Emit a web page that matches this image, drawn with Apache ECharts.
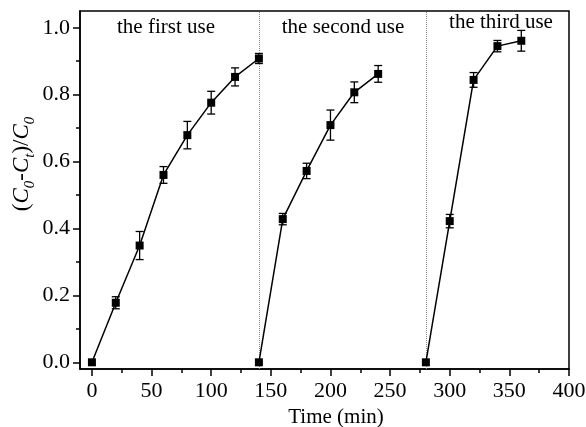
<!DOCTYPE html>
<html>
<head>
<meta charset="utf-8">
<script src="https://cdn.jsdelivr.net/npm/echarts@6/dist/echarts.min.js"></script>
<style>
  html, body { margin: 0; padding: 0; background: #fff; }
  #chart { width: 586px; height: 427px; }
</style>
</head>
<body>
<div id="chart"></div>
<script>
// 三次使用的降解数据 (C0-Ct)/C0
var time1 = [0, 20, 40, 60, 80, 100, 120, 140]
var use1 = [0, 0.178, 0.349, 0.56, 0.679, 0.776, 0.853, 0.908]
var err1 = [0, 0.018, 0.042, 0.025, 0.041, 0.034, 0.027, 0.015]

var time2 = [140, 160, 180, 200, 220, 240]
var use2 = [0, 0.428, 0.572, 0.709, 0.807, 0.862]
var err2 = [0, 0.017, 0.023, 0.045, 0.031, 0.025]

var time3 = [280, 300, 320, 340, 360]
var use3 = [0, 0.422, 0.844, 0.945, 0.961]
var err3 = [0, 0.02, 0.022, 0.017, 0.031]

var dividers = [140, 280]
var useNames = ['the first use', 'the second use', 'the third use']

var xMajor = [0, 50, 100, 150, 200, 250, 300, 350, 400]
var xMinor = [25, 75, 125, 175, 225, 275, 325, 375]
var yMajor = [0, 0.2, 0.4, 0.6, 0.8, 1.0]
var yMinor = [0.1, 0.3, 0.5, 0.7, 0.9]

var FONT = "'Liberation Serif', 'Times New Roman', serif"

function pairs(xs, ys) {
  return xs.map(function(x, i) { return [x, ys[i]] })
}
function triples(xs, ys, es) {
  return xs.map(function(x, i) { return [x, ys[i], es[i]] })
}

function errorBar(params, api) {
  var x = api.value(0)
  var y = api.value(1)
  var e = api.value(2)
  if (!e) return null
  var hi = api.coord([x, y + e])
  var lo = api.coord([x, y - e])
  var w = 4
  var style = { stroke: '#000', lineWidth: 1.3 }
  return {
    type: 'group',
    children: [
      { type: 'line', shape: { x1: hi[0], y1: hi[1], x2: lo[0], y2: lo[1] }, style: style },
      { type: 'line', shape: { x1: hi[0] - w, y1: hi[1], x2: hi[0] + w, y2: hi[1] }, style: style },
      { type: 'line', shape: { x1: lo[0] - w, y1: lo[1], x2: lo[0] + w, y2: lo[1] }, style: style }
    ]
  }
}

function lineSeries(xs, ys) {
  return {
    type: 'line',
    data: pairs(xs, ys),
    symbol: 'rect',
    symbolSize: 8,
    itemStyle: { color: '#000' },
    lineStyle: { color: '#000', width: 1.5 },
    z: 5
  }
}
function errSeries(xs, ys, es) {
  return {
    type: 'custom',
    data: triples(xs, ys, es),
    encode: { x: 0, y: 1 },
    renderItem: errorBar,
    z: 4
  }
}

var axisCommon = {
  type: 'value',
  splitLine: { show: false }
}
var tickLine = { color: '#000', width: 1.5 }

var myChart = echarts.init(document.getElementById('chart'))
var option = {
  animation: false,
  backgroundColor: '#fff',
  grid: {
    left: 80, right: 17, top: 11, bottom: 58,
    show: true, borderColor: '#000', borderWidth: 1.5,
    outerBoundsMode: 'none'
  },
  xAxis: [
    Object.assign({}, axisCommon, {
      min: -10, max: 400, position: 'bottom',
      name: 'Time (min)',
      nameLocation: 'middle',
      nameGap: 37,
      nameTextStyle: { fontFamily: FONT, fontSize: 21, color: '#000', padding: [0, 0, 0, 23] },
      axisLine: { onZero: false, lineStyle: { color: '#000', width: 1.5 } },
      axisTick: { inside: false, customValues: xMajor, length: 7, lineStyle: tickLine },
      axisLabel: { customValues: xMajor, fontFamily: FONT, fontSize: 22, color: '#000', margin: 11 }
    }),
    Object.assign({}, axisCommon, {
      min: -10, max: 400, position: 'bottom',
      axisLine: { show: false, onZero: false },
      axisTick: { inside: false, customValues: xMinor, length: 4, lineStyle: tickLine },
      axisLabel: { show: false }
    })
  ],
  yAxis: [
    Object.assign({}, axisCommon, {
      min: -0.02, max: 1.05, position: 'left',
      axisLine: { show: true, onZero: false, lineStyle: { color: '#000', width: 1.5 } },
      axisTick: { show: true, inside: false, customValues: yMajor, length: 7, lineStyle: tickLine },
      axisLabel: {
        customValues: yMajor, fontFamily: FONT, fontSize: 22, color: '#000', margin: 10,
        formatter: function(v) { return v.toFixed(1) }
      }
    }),
    Object.assign({}, axisCommon, {
      min: -0.02, max: 1.05, position: 'left',
      axisLine: { show: false, onZero: false },
      axisTick: { show: true, inside: false, customValues: yMinor, length: 4, lineStyle: tickLine },
      axisLabel: { show: false }
    })
  ],
  graphic: [
    {
      type: 'text', x: 22, y: 164, rotation: Math.PI / 2,
      style: {
        text: '{p|(}{i|C}{s|0}{p|-}{i|C}{s|t}{p|)/}{i|C}{s|0}',
        align: 'center', verticalAlign: 'middle',
        rich: {
          p: { fontFamily: FONT, fontSize: 23, fill: '#000' },
          i: { fontFamily: FONT, fontSize: 23, fontStyle: 'italic', fill: '#000' },
          s: { fontFamily: FONT, fontSize: 15, fontStyle: 'italic', fill: '#000', padding: [17, 0, 0, 0] }
        }
      }
    },
    { type: 'text', x: 166, y: 27, style: { text: useNames[0], font: '21px ' + FONT, fill: '#000', align: 'center', verticalAlign: 'middle' } },
    { type: 'text', x: 343, y: 27, style: { text: useNames[1], font: '21px ' + FONT, fill: '#000', align: 'center', verticalAlign: 'middle' } },
    { type: 'text', x: 501, y: 22, style: { text: useNames[2], font: '21px ' + FONT, fill: '#000', align: 'center', verticalAlign: 'middle' } }
  ],
  series: [
    {
      type: 'line',
      data: [],
      markLine: {
        silent: true,
        symbol: 'none',
        label: { show: false },
        lineStyle: { color: '#888', type: 'dotted', width: 1 },
        data: dividers.map(function(d) { return { xAxis: d } })
      }
    },
    errSeries(time1, use1, err1),
    errSeries(time2, use2, err2),
    errSeries(time3, use3, err3),
    lineSeries(time1, use1),
    lineSeries(time2, use2),
    lineSeries(time3, use3)
  ]
}
myChart.setOption(option)
</script>
</body>
</html>
